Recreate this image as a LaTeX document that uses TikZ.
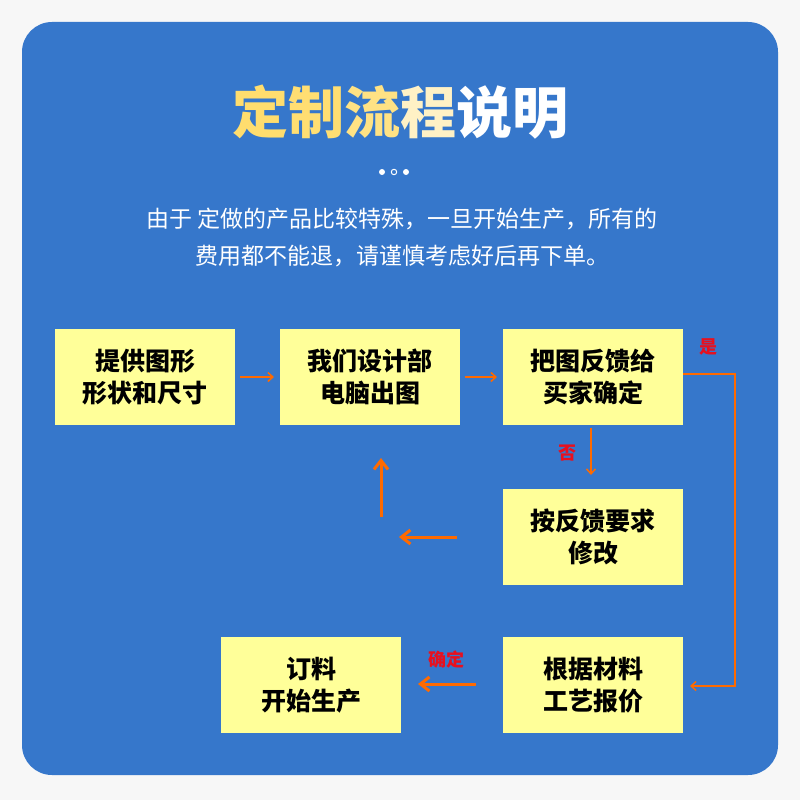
\documentclass[tikz,border=0pt]{standalone}
\usepackage{fontspec}
\setmainfont{Noto Sans CJK SC}
\newfontfamily\cjkb[BoldFont={Noto Sans CJK SC Bold}]{Noto Sans CJK SC}
\usetikzlibrary{arrows.meta}
\definecolor{bgblue}{HTML}{3677CB}
\definecolor{boxy}{HTML}{FFFF99}
\definecolor{arr}{HTML}{FF6A00}
\definecolor{ty}{HTML}{FFDD6E}
\definecolor{lblred}{HTML}{E8101E}
\begin{document}
\begin{tikzpicture}[x=1pt,y=-1pt,
  box/.style={fill=boxy,minimum width=180pt,minimum height=96pt,align=center,font=\fontsize{25}{32}\selectfont\bfseries},
  thin/.style={draw=arr,line width=1.5pt,-{Straight Barb[length=5pt,width=9pt]}},
  thick/.style={draw=arr,line width=3pt,-{Straight Barb[length=9pt,width=14pt]}},
  lbl/.style={text=lblred,font=\fontsize{18}{20}\selectfont\bfseries}]
\useasboundingbox (0,0) rectangle (800,800);
\fill[white!94!gray] (0,0) rectangle (800,800);
\fill[bgblue,rounded corners=30pt] (22,22) rectangle (778,775);
\node[font=\fontsize{56}{60}\selectfont\bfseries] (title) at (400,112) {\textcolor{ty}{定}\textcolor{ty!97!white}{制}\textcolor{ty!85!white}{流}\textcolor{ty!40!white}{程}\textcolor{white}{说明}};
\fill[white] (382,172) circle (3pt) (406,172) circle (3pt);
\draw[white,line width=1pt] (394,172) circle (2.7pt);
\node[text=white,font=\fontsize{23}{37}\selectfont,align=center] (intro) at (402,237) {由于 定做的产品比较特殊，一旦开始生产，所有的\\费用都不能退，请谨慎考虑好后再下单。};
\node[box] (b1) at (145,377) {提供图形\\形状和尺寸};
\node[box] (b2) at (370,377) {我们设计部\\电脑出图};
\node[box] (b3) at (593,377) {把图反馈给\\买家确定};
\node[box] (b4) at (593,537) {按反馈要求\\修改};
\node[box] (b5) at (593,685) {根据材料\\工艺报价};
\node[box] (b6) at (311,685) {订料\\开始生产};
\coordinate (c1) at (240,377); \coordinate (c2) at (274,377);
\coordinate (c3) at (465,377); \coordinate (c4) at (497,377);
\draw[thin] (c1) -- (c2);
\draw[thin] (c3) -- (c4);
\coordinate (r1) at (735,374); \coordinate (r2) at (735,686); \coordinate (r3) at (690,686);
\draw[thin] (b3.east |- r1) -- (r1) -- (r2) -- (r3);
\node[lbl] (yes) at (708,347) {是};
\draw[thin] (591,428) coordinate (d1) -- (591,475) coordinate (d2);
\node[lbl] (no) at (567,453) {否};
\draw[thick] (457,537) coordinate (e1) -- (399,537) coordinate (e2);
\draw[thick] (381,517) coordinate (f1) -- (381,458) coordinate (f2);
\draw[thick] (476,684) coordinate (g1) -- (418,684) coordinate (g2);
\node[lbl] (ok) at (446,660) {确定};
\end{tikzpicture}
\end{document}
